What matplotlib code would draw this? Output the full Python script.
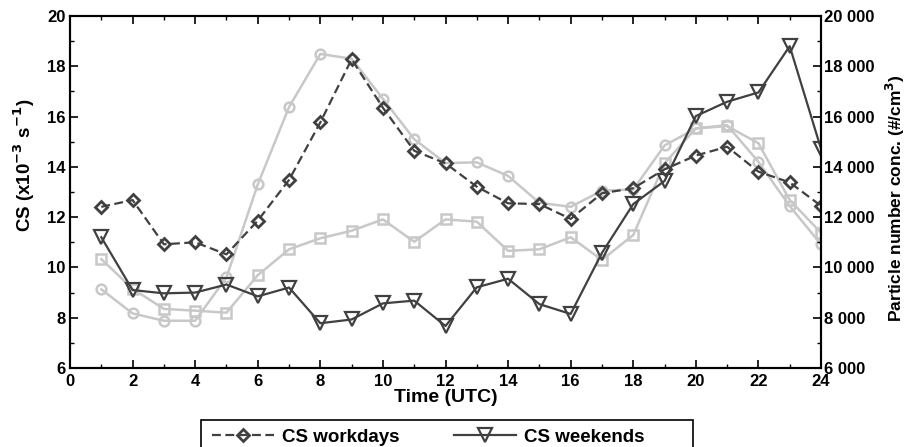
import matplotlib
matplotlib.use("Agg")
import matplotlib.pyplot as plt
from matplotlib.patches import Rectangle
from matplotlib.ticker import MultipleLocator, FuncFormatter

plt.rcParams['font.family'] = ['Liberation Sans', 'DejaVu Sans']
plt.rcParams['font.weight'] = 'bold'

hours = list(range(1, 25))

# condensation sink (x10^-3 s^-1)
cs_workdays = [12.41, 12.68, 10.92, 11.0, 10.52, 11.86, 13.48, 15.77, 18.28, 16.35,
               14.64, 14.14, 13.21, 12.55, 12.52, 11.93, 12.95, 13.15, 13.9, 14.45,
               14.8, 13.81, 13.38, 12.45]
cs_weekends = [11.2, 9.1, 8.97, 9.0, 9.32, 8.85, 9.2, 7.78, 7.93, 8.57,
               8.68, 7.67, 9.21, 9.55, 8.54, 8.15, 10.58, 12.52, 13.44, 16.02,
               16.59, 16.96, 18.8, 14.72]

# particle number concentration (#/cm3)
n_circle = [9130, 8170, 7880, 7880, 9600, 13300, 16380, 18490, 18300, 16710,
            15100, 14150, 14180, 13640, 12570, 12410, 13050, 13100, 14850, 15530,
            15660, 14200, 12440, 10920]
n_square = [10330, 9150, 8350, 8280, 8200, 9690, 10720, 11160, 11460, 11910,
            11020, 11910, 11820, 10660, 10720, 11200, 10300, 11290, 14140, 15530,
            15620, 14940, 12680, 11380]

dark = '#404040'
light = '#c8c8c8'

fig = plt.figure(figsize=(9.09, 4.47), dpi=100)
ax = fig.add_axes([70/909, 1-368/447, 751/909, 352/447])
ax2 = ax.twinx()

# gray series on the right axis, drawn below
ax2.plot(hours, n_circle, color=light, lw=1.8, marker='o', ms=7, mfc='none',
         mew=1.8, zorder=1)
ax2.plot(hours, n_square, color=light, lw=1.8, marker='s', ms=7, mfc='none',
         mew=1.8, zorder=1)

ax.set_zorder(ax2.get_zorder() + 1)
ax.patch.set_visible(False)
l1, = ax.plot(hours, cs_workdays, color=dark, lw=1.6, ls=(0, (4, 2)), marker='D',
              ms=6.5, mfc='none', mew=2, label='CS workdays')
l2, = ax.plot(hours, cs_weekends, color=dark, lw=1.6, marker='v', ms=10,
              mfc='none', mew=1.6, label='CS weekends')

ax.set_xlim(0, 24)
ax.set_ylim(6, 20)
ax2.set_ylim(6000, 20000)

ax.xaxis.set_major_locator(MultipleLocator(2))
ax.xaxis.set_minor_locator(MultipleLocator(1))
ax.yaxis.set_major_locator(MultipleLocator(2))
ax.yaxis.set_minor_locator(MultipleLocator(1))
ax2.yaxis.set_major_locator(MultipleLocator(2000))
ax2.yaxis.set_minor_locator(MultipleLocator(1000))
ax2.yaxis.set_major_formatter(FuncFormatter(lambda v, p: f"{int(v):,}".replace(',', ' ')))

ax.tick_params(which='both', direction='in', top=True, labelsize=12, pad=3)
ax.tick_params(axis='x', pad=4)
ax.tick_params(which='major', length=6, width=1.2)
ax.tick_params(which='minor', length=3, width=1)
ax2.tick_params(which='both', direction='in', labelsize=12, pad=2)
ax2.tick_params(which='major', length=6, width=1.2)
ax2.tick_params(which='minor', length=3, width=1)
for a in (ax, ax2):
    for s in a.spines.values():
        s.set_linewidth(1.5)
    for lab in a.get_xticklabels() + a.get_yticklabels():
        lab.set_fontweight('bold')

ax.set_xlabel('Time (UTC)', fontsize=14, fontweight='bold', labelpad=0)
ax.set_ylabel(r'CS (x10$^{\mathbf{-3}}$ s$^{\mathbf{-1}}$)', fontsize=13.5,
              fontweight='bold')
ax.yaxis.set_label_coords(-33/751, 0.577)
ax2.set_ylabel(r'Particle number conc. (#/cm$^{\mathbf{3}}$)', fontsize=12.5,
               fontweight='bold')
ax2.yaxis.set_label_coords(1 + 63/751, 0.483)

# legend box runs off the bottom edge, as in the original
fig.patches.append(Rectangle((201/909, -0.05), 492/909, 0.05 + (447-420)/447,
                             transform=fig.transFigure, fill=False,
                             edgecolor='black', lw=1.2))
fig.legend(handles=[l1, l2], loc='center left', bbox_to_anchor=(212/909, 1-437/447),
           ncol=2, frameon=False, borderpad=0, borderaxespad=0,
           handlelength=3.3, handletextpad=0.43, columnspacing=2.9,
           prop={'size': 13.5, 'weight': 'bold'})

fig.savefig('out.png', dpi=100)
